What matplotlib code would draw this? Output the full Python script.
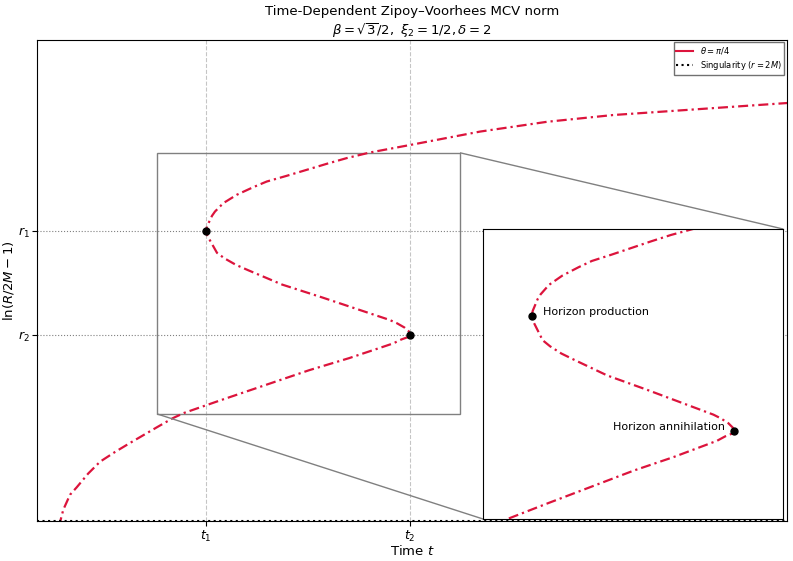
"""
Zipoy-Voorhees MCV norm: curva t(r) com zoom das regioes de horizonte.
"""
import matplotlib
matplotlib.use("Agg")
import matplotlib.pyplot as plt
from matplotlib.lines import Line2D
from mpl_toolkits.axes_grid1.inset_locator import mark_inset

# --- dados (t, ln(R/2M - 1)) ---
t_curve = [0.29, 0.35, 0.44, 0.53, 0.68, 0.84, 1.04, 1.24, 1.60, 1.81, 1.96,
           2.45, 3.04, 3.63, 4.16, 4.61, 4.75, 4.86, 4.953, 4.973,
           4.960, 4.90, 4.80, 4.70, 4.34, 3.80, 3.27, 2.82, 2.653, 2.50, 2.40,
           2.313, 2.257, 2.253,
           2.267, 2.333, 2.373, 2.484, 2.663, 2.884, 3.063, 3.329, 3.596,
           3.863, 4.129, 4.44, 4.97, 5.91, 6.80, 7.68, 8.84, 10.00, 10.17]
y_curve = [-0.08, 0.15, 0.35, 0.45, 0.63, 0.79, 0.92, 1.04, 1.25, 1.37, 1.44,
           1.61, 1.81, 2.01, 2.17, 2.32, 2.367, 2.42, 2.453, 2.48,
           2.525, 2.578, 2.635, 2.68, 2.80, 2.98, 3.15, 3.34, 3.413, 3.50, 3.573,
           3.727, 3.827, 3.867,
           3.927, 4.067, 4.124, 4.236, 4.347, 4.449, 4.524, 4.60, 4.68,
           4.76, 4.836, 4.911, 5.01, 5.19, 5.32, 5.41, 5.49, 5.57, 5.58]

t1, t2 = 2.253, 4.973
r1, r2 = 3.867, 2.48
r_sing = 0.0

xlim = (0, 10)
ylim = (0, 6.41)
zoom_x = (1.6, 5.64)
zoom_y = (1.427, 4.907)

cor = "#DC143C"
estilo = (0, (4.5, 1.8, 1, 1.8))

fig, ax = plt.subplots(figsize=(7.93, 5.61), dpi=100)
fig.subplots_adjust(left=0.0467, right=0.9924, top=0.9287, bottom=0.0713)

ax.plot(t_curve, y_curve, color=cor, lw=1.6, ls=estilo)
ax.axhline(r_sing, color="k", ls=":", lw=1.5)
for tv in (t1, t2):
    ax.axvline(tv, color="gray", ls="--", lw=0.8, alpha=0.45)
for rv in (r1, r2):
    ax.axhline(rv, color="gray", ls=":", lw=0.8)
ax.plot([t1, t2], [r1, r2], "o", color="k", ms=5, zorder=5)

ax.set_xlim(*xlim)
ax.set_ylim(*ylim)
ax.set_xticks([t1, t2])
ax.set_xticklabels(["$t_1$", "$t_2$"], fontsize=9)
ax.set_yticks([r1, r2])
ax.set_yticklabels(["$r_1$", "$r_2$"], fontsize=9)
ax.tick_params(pad=2)
ax.set_xlabel("Time $t$", fontsize=9.5, labelpad=0)
ax.set_ylabel(r"$\ln(R/2M - 1)$", fontsize=9.5, labelpad=1)
ax.set_title("Time-Dependent Zipoy\u2013Voorhees MCV norm\n"
             r"$\beta = \sqrt{3}/2,\ \xi_2 = 1/2, \delta = 2$",
             fontsize=9.5, pad=3)

handles = [Line2D([], [], color=cor, lw=1.5),
           Line2D([], [], color="k", ls=":", lw=1.5)]
ax.legend(handles, [r"$\theta = \pi/4$", "Singularity ($r = 2M$)"],
          loc="upper right", fontsize=6, fancybox=False, edgecolor="0.3",
          borderaxespad=0.3, borderpad=0.35, labelspacing=0.3)

# --- zoom ---
axins = ax.inset_axes([0.595, 0.004, 0.4, 0.603])
axins.plot(t_curve, y_curve, color=cor, lw=1.6, ls=estilo)
axins.plot([t1, t2], [r1, r2], "o", color="k", ms=5, zorder=5)
axins.set_xlim(*zoom_x)
axins.set_ylim(*zoom_y)
axins.set_xticks([])
axins.set_yticks([])
axins.annotate("Horizon production", (t1, r1), xytext=(8, 3),
               textcoords="offset points", fontsize=8, va="center")
axins.annotate("Horizon annihilation", (t2, r2), xytext=(-6, 3),
               textcoords="offset points", fontsize=8, va="center", ha="right")
mark_inset(ax, axins, loc1=1, loc2=3, fc="none", ec="0.5")

plt.savefig("out.png", dpi=100)
print("Salvo: out.png")
